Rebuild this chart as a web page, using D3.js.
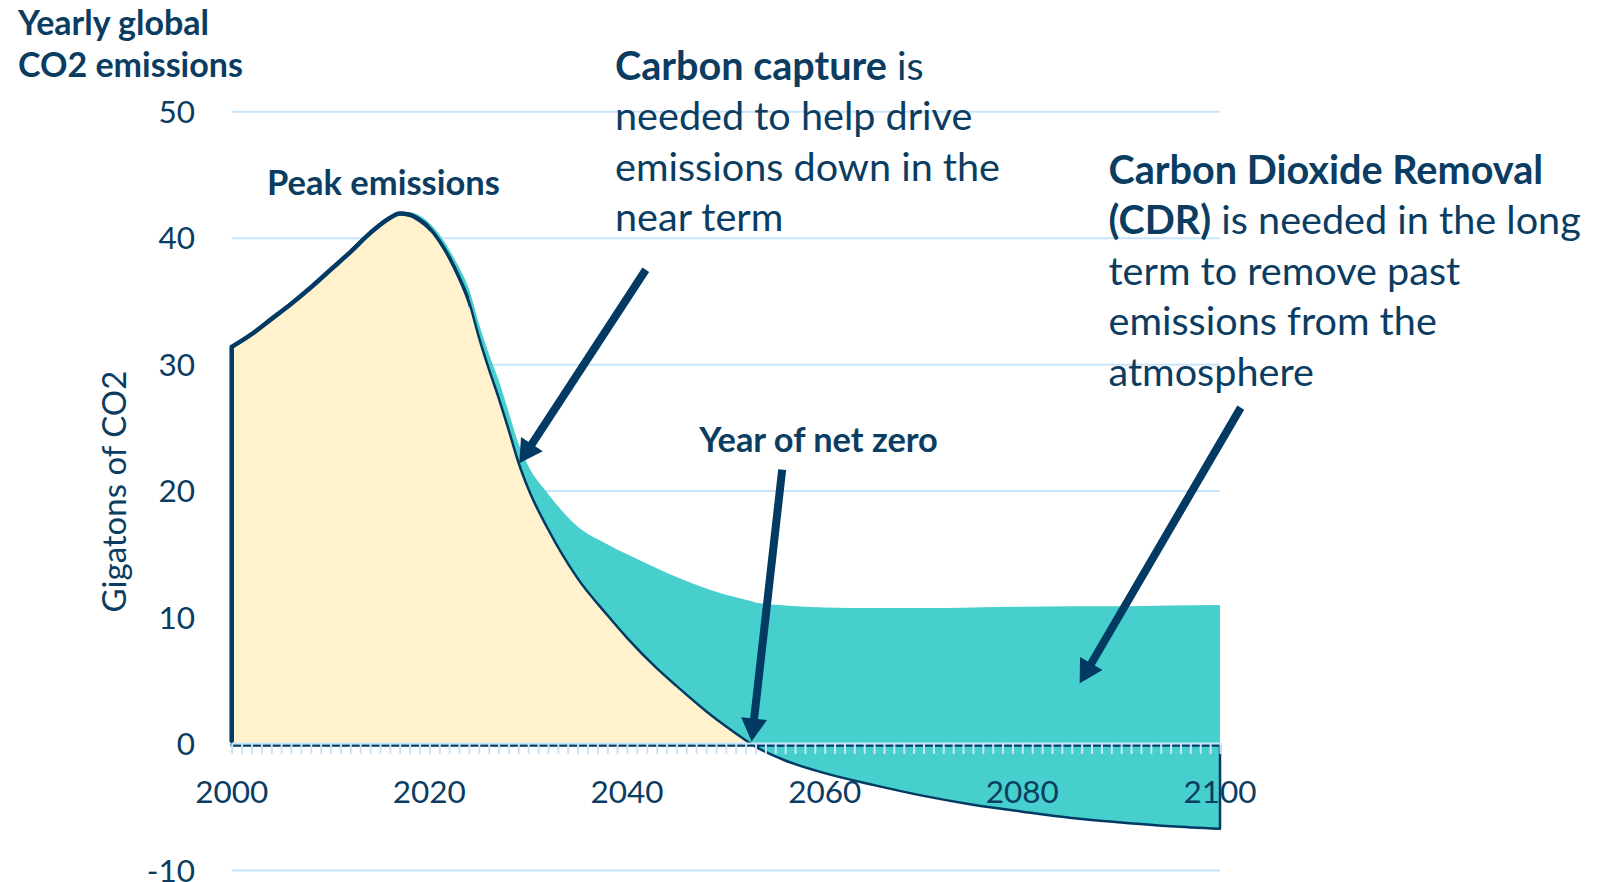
<!DOCTYPE html>
<html>
<head>
<meta charset="utf-8">
<script src="https://cdn.jsdelivr.net/npm/d3@7"></script>
<style>
body { margin: 0; background: #fff; }
svg { display: block; font-family: Lato, "Open Sans", sans-serif; }
</style>
</head>
<body>
<svg id="chart"></svg>
<script>
var width = 1608
var height = 882

// values (Gt CO2 per year)
var years = [2000, 2002, 2004, 2006, 2008, 2010, 2012, 2014, 2016, 2017, 2018, 2019, 2020, 2021, 2022, 2023, 2024, 2025, 2026, 2027, 2028, 2029, 2030, 2032, 2035, 2038, 2040, 2043, 2045, 2048, 2050, 2052, 2053, 2056, 2060, 2065, 2070, 2075, 2080, 2085, 2090, 2095, 2100]
var netEmissions = [31.4, 32.4, 33.6, 34.8, 36.1, 37.5, 38.9, 40.4, 41.6, 41.95, 41.85, 41.45, 40.8, 39.8, 38.5, 36.9, 35.0, 32.2, 29.7, 27.4, 24.9, 22.3, 20.2, 17.0, 13.1, 10.2, 8.4, 6.0, 4.6, 2.6, 1.4, 0.3, -0.2, -1.3, -2.3, -3.25, -4.1, -4.8, -5.35, -5.85, -6.2, -6.5, -6.7]
var grossEmissions = [31.4, 32.4, 33.6, 34.8, 36.1, 37.5, 38.9, 40.4, 41.6, 41.95, 42.05, 41.8, 41.2, 40.3, 39.1, 37.7, 36.0, 33.3, 30.9, 28.8, 26.3, 23.8, 22.0, 19.8, 17.2, 15.8, 15.0, 13.9, 13.2, 12.3, 11.8, 11.4, 11.2, 10.95, 10.8, 10.75, 10.75, 10.8, 10.85, 10.9, 10.9, 10.95, 11.0]

var yTicks = [-10, 0, 10, 20, 30, 40, 50]
var xLabels = [2000, 2020, 2040, 2060, 2080, 2100]
var minorTicks = d3.range(2000, 2101, 1)

// arrows: tail -> tip, in data units
var arrows = [
    {from: [2041.9, 37.5], to: [2029.1, 22.2]},
    {from: [2055.7, 21.7], to: [2052.6, 0.2]},
    {from: [2102.1, 26.6], to: [2085.8, 4.8]}
]

var navy = "#0b3c61"
var lineNavy = "#023a63"
var grid = "#c8e4fa"
var teal = "#46cfcc"
var cream = "#fff2cc"

var data = years.map((d, i) => ({year: d, net: netEmissions[i], gross: grossEmissions[i]}))

var x = d3.scaleLinear()
    .domain([2000, 2100])
    .range([231.7, 1220])
var y = d3.scaleLinear()
    .domain([-10, 50])
    .range([870.5, 111.7])

const svg = d3.select("#chart")
    .attr("width", width)
    .attr("height", height)
    .attr("viewBox", [0, 0, width, height])

const defs = svg.append("defs")
defs.append("clipPath").attr("id", "above0")
    .append("rect").attr("x", 0).attr("y", 0).attr("width", width).attr("height", y(0) + 2)
defs.append("clipPath").attr("id", "early1")
    .append("rect").attr("x", 0).attr("y", 0).attr("width", x(2020)).attr("height", y(0) - 2)
defs.append("clipPath").attr("id", "early2")
    .append("rect").attr("x", 0).attr("y", 0).attr("width", x(2024)).attr("height", y(0) - 2)

// gridlines
svg.append("g")
    .selectAll("line")
    .data(yTicks.filter(d => d !== 0))
    .join("line")
    .attr("x1", x(2000))
    .attr("x2", x(2100))
    .attr("y1", d => y(d))
    .attr("y2", d => y(d))
    .attr("stroke", grid)
    .attr("stroke-width", 2)

var curve = d3.curveMonotoneX

var captureArea = d3.area()
    .curve(curve)
    .x(d => x(d.year))
    .y0(d => y(d.net))
    .y1(d => y(d.gross))

// baseline sits a hair under the axis so the dark edge peeks out below it
var netArea = d3.area()
    .curve(curve)
    .x(d => x(d.year))
    .y0(y(0) + 1.5)
    .y1(d => y(d.net))

svg.append("path")
    .datum(data)
    .attr("fill", teal)
    .attr("d", captureArea)

svg.append("path")
    .datum(data)
    .attr("fill", cream)
    .attr("clip-path", "url(#above0)")
    .attr("d", netArea)

svg.append("path")
    .datum(data)
    .attr("fill", "none")
    .attr("stroke", lineNavy)
    .attr("stroke-width", 2.5)
    .attr("stroke-linejoin", "round")
    .attr("d", netArea)

// the outline is heavier on the early part of the curve
svg.append("path")
    .datum(data)
    .attr("fill", "none")
    .attr("stroke", lineNavy)
    .attr("stroke-width", 3.5)
    .attr("clip-path", "url(#early2)")
    .attr("d", netArea)
svg.append("path")
    .datum(data)
    .attr("fill", "none")
    .attr("stroke", lineNavy)
    .attr("stroke-width", 4.5)
    .attr("stroke-linejoin", "round")
    .attr("clip-path", "url(#early1)")
    .attr("d", netArea)

// x axis along zero with a tick every year
var xAxis = g => g
    .attr("transform", `translate(0,${y(0) - 1})`)
    .call(d3.axisBottom(x).tickValues(minorTicks).tickSize(11).tickSizeOuter(0).tickFormat(""))
    .call(g => g.select(".domain").attr("stroke", grid).attr("stroke-width", 2))
    .call(g => g.selectAll(".tick line").attr("stroke", grid).attr("stroke-width", 2))

svg.append("g").call(xAxis)

svg.append("g")
    .attr("fill", navy)
    .attr("font-size", 31.5)
    .attr("text-anchor", "middle")
    .selectAll("text")
    .data(xLabels)
    .join("text")
    .attr("x", d => x(d))
    .attr("y", y(0) + 59)
    .text(d => d)

// y axis labels
svg.append("g")
    .attr("fill", navy)
    .attr("font-size", 31.5)
    .attr("text-anchor", "end")
    .selectAll("text")
    .data(yTicks)
    .join("text")
    .attr("x", 195)
    .attr("y", d => y(d) + 11)
    .text(d => d)

svg.append("text")
    .attr("transform", "translate(126,491.5) rotate(-90)")
    .attr("text-anchor", "middle")
    .attr("fill", navy)
    .attr("font-size", 33)
    .text("Gigatons of CO2")

// title
var title = svg.append("text")
    .attr("fill", navy)
    .attr("font-size", 34)
    .attr("font-weight", 700)
title.append("tspan").attr("x", 18).attr("y", 35).text("Yearly global")
title.append("tspan").attr("x", 18).attr("y", 76.5).text("CO2 emissions")

// annotations
svg.append("text")
    .attr("x", 383.5).attr("y", 195)
    .attr("text-anchor", "middle")
    .attr("fill", navy)
    .attr("font-size", 34.5)
    .attr("font-weight", 700)
    .text("Peak emissions")

svg.append("text")
    .attr("x", 818.5).attr("y", 451.5)
    .attr("text-anchor", "middle")
    .attr("fill", navy)
    .attr("font-size", 34.4)
    .attr("font-weight", 700)
    .text("Year of net zero")

function block(left, top, lines) {
    var t = svg.append("text")
        .attr("fill", navy)
        .attr("font-size", 39.6)
    lines.forEach((ln, i) => {
        var row = t.append("tspan").attr("x", left).attr("y", top + i * 50.6)
        ln.forEach(part => {
            row.append("tspan")
                .attr("font-weight", part[1] ? 700 : 400)
                .text(part[0])
        })
    })
}

block(615, 79.5, [
    [["Carbon capture", true], [" is", false]],
    [["needed to help drive", false]],
    [["emissions down in the", false]],
    [["near term", false]]
])

block(1108.5, 183.5, [
    [["Carbon Dioxide Removal", true]],
    [["(CDR)", true], [" is needed in the long", false]],
    [["term to remove past", false]],
    [["emissions from the", false]],
    [["atmosphere", false]]
])

// arrows
var headLen = 23, headHalf = 13
arrows.forEach(a => {
    var p0 = [x(a.from[0]), y(a.from[1])]
    var p1 = [x(a.to[0]), y(a.to[1])]
    var dx = p1[0] - p0[0], dy = p1[1] - p0[1]
    var len = Math.hypot(dx, dy)
    var ux = dx / len, uy = dy / len
    var bx = p1[0] - ux * headLen, by = p1[1] - uy * headLen
    svg.append("line")
        .attr("x1", p0[0]).attr("y1", p0[1])
        .attr("x2", bx + ux * 2).attr("y2", by + uy * 2)
        .attr("stroke", lineNavy)
        .attr("stroke-width", 8)
    svg.append("path")
        .attr("fill", lineNavy)
        .attr("d", d3.line()([
            p1,
            [bx - uy * headHalf, by + ux * headHalf],
            [bx + uy * headHalf, by - ux * headHalf]
        ]) + "Z")
})
</script>
</body>
</html>
